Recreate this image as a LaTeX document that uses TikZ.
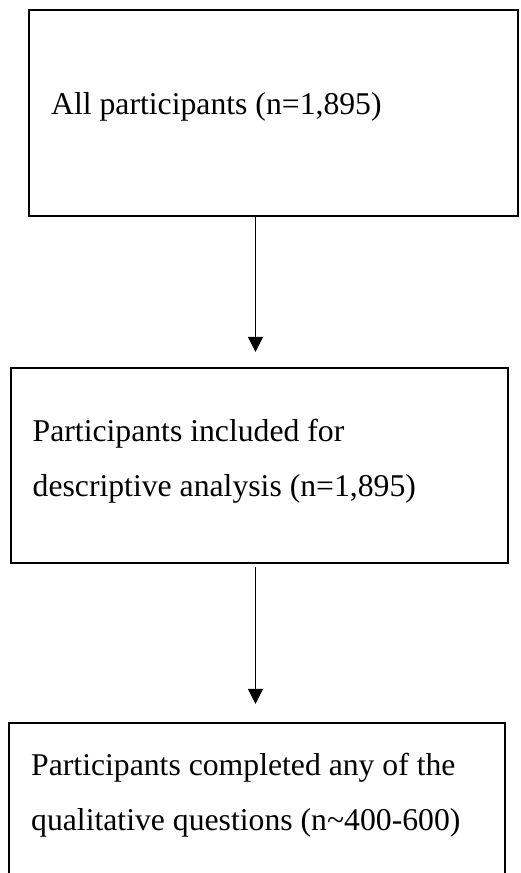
\documentclass[tikz,border=0pt]{standalone}
\usepackage{fontspec}
\setmainfont{Liberation Serif}
\usetikzlibrary{arrows.meta, positioning}

\begin{document}
\begin{tikzpicture}[x=1pt,y=-1pt,
    stagebox/.style={draw,line width=2.2pt,rectangle,inner sep=0pt},
    stagetext/.style={anchor=base west,inner sep=0pt,align=left,font=\fontsize{31.7}{55}\selectfont},
    flow/.style={line width=1pt,-{Triangle[length=15pt,width=15pt]}}]
    \useasboundingbox (0,0) rectangle (520,873);
    \clip (0,0) rectangle (520,873);
    \node[stagebox,minimum width=489pt,minimum height=206pt] (all) at (273.5,113) {};
    \node[stagebox,minimum width=497pt,minimum height=195pt] (desc) at (259.5,465.5) {};
    \node[stagebox,minimum width=496pt,minimum height=190pt] (qual) at (257,818) {};
    \node[stagetext] (alltext) at (51,114) {All participants (n=1,895)};
    \node[stagetext] (desctext) at (32.5,496) {Participants included for\\descriptive analysis (n=1,895)};
    \node[stagetext] (qualtext) at (31,830) {Participants completed any of the\\qualitative questions (n\textasciitilde400-600)};
    \coordinate (axis) at (255.5,0);
    \draw[flow,shorten >=15pt] (all.south -| axis) -- (desc.north -| axis);
    \draw[flow,shorten <=3pt,shorten >=18pt] (desc.south -| axis) -- (qual.north -| axis);
  \end{tikzpicture}
\end{document}
